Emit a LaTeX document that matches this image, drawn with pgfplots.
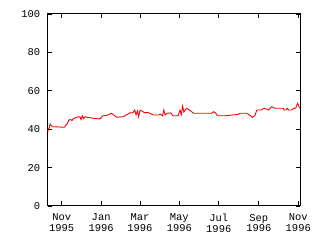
\documentclass[border=0pt]{standalone}
\usepackage{pgfplots}
\pgfplotsset{compat=1.18}
\usepackage{fontspec}
\setmainfont{Liberation Mono}
\begin{document}
\begin{tikzpicture}
\useasboundingbox (0bp,0bp) rectangle (320bp,240bp);
\begin{axis}[
  at={(47.7bp,34bp)}, anchor=south west,
  scale only axis, width=252.3bp, height=192bp,
  xmin=-21.7, xmax=368.7, ymin=0, ymax=100,
  xtick={0,61,121,182,243,305,366},
  xticklabels={Nov\\1995,Jan\\1996,Mar\\1996,May\\1996,Jul\\1996,Sep\\1996,Nov\\1996},
  minor x tick num=5,
  ytick={0,20,40,60,80,100},
  tick align=inside,
  major tick length=4.5bp, minor tick length=2.5bp,
  every tick/.style={black, line width=0.8bp},
  axis line style={line width=1bp},
  /pgf/number format/assume math mode=true,
  tick label style={font=\fontsize{10.5}{11}\selectfont},
  x tick label style={align=center, yshift=-4.5bp},
  y tick label style={xshift=-4bp},
]
\addplot[red, line width=0.9bp] coordinates {
(-21.5,38.5) (-21,40) (-19.5,40.5) (-18,42.7) (-16,41.8) (-14.5,41.3) (-7,41.2)
(4.5,41) (6,42.2) (8,42.5) (11,44.8) (14,45) (16,44.5) (18,45.5) (23,46.2)
(28,46.5) (30,45) (32,47) (34,45.5) (36,46.5) (39,46.2) (49,45.7) (59,45.3)
(64,47) (70,47.2) (77,48.3) (80,47.5) (85,46.2) (95,46.5) (100,47.4) (106,48.6)
(110,48.5) (113,50) (115,47.5) (117,49.5) (119,46.5) (121,49.8) (124,49.5)
(128,48.6) (134,48.6) (142,47.4) (150,47.4) (153,47.8) (156,47) (158,50)
(160,47.4) (163,48.3) (169,48.5) (172,47) (180,47) (183,50) (185,47.5) (187,52)
(189,49) (193,50.9) (198,49.9) (201,49.1) (204,48.3) (232,48.3) (235,49.1)
(238,48.5) (241,47) (253,47) (273,47.7) (276,48.3) (286,48.3) (290,47.5)
(295,46.2) (299,47.2) (302,50) (309,50) (313,50.9) (317,50.5) (320,50)
(325,51.7) (330,50.9) (343,50.9) (344,50) (347,50) (349,50.9) (351,50)
(356,50) (359,50.9) (362,51) (365,53.5) (366.5,52.5) (368,51)
};
\end{axis}
\end{tikzpicture}
\end{document}
